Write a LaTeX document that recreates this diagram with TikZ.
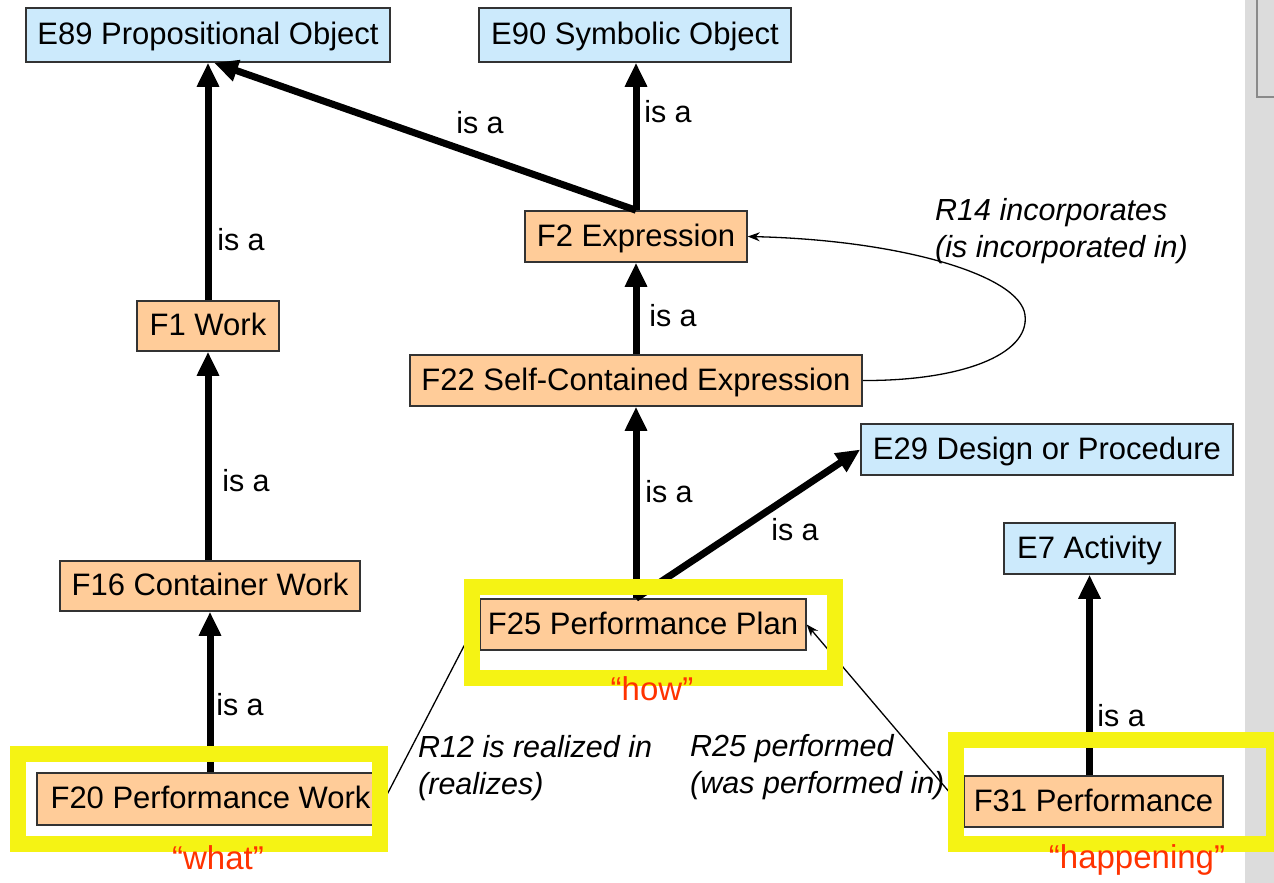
\documentclass[tikz,border=0pt]{standalone}
\usepackage{fontspec}
\setmainfont{Liberation Sans}
\usetikzlibrary{arrows.meta,calc}
\definecolor{ebox}{HTML}{CCEAFC}
\definecolor{fbox}{HTML}{FFCC99}
\definecolor{hilite}{HTML}{F5F314}
\definecolor{redtxt}{HTML}{FF3300}
\definecolor{bdr}{HTML}{333333}
\definecolor{sbar}{HTML}{DCDCDC}
\definecolor{sbarline}{HTML}{8A8A8A}
\tikzset{
  cls/.style={draw=bdr, line width=1.5pt, inner sep=0pt, text height=22pt, text depth=3pt, font=\fontsize{31}{37}\selectfont},
  ecls/.style={cls, fill=ebox},
  fcls/.style={cls, fill=fbox},
  isa/.style={line width=7pt, -{Triangle[width=21pt,length=24pt]}},
  rel/.style={line width=1.3pt, -{Stealth[length=12pt,width=9pt]}},
  isalbl/.style={inner sep=0pt, font=\fontsize{30.5}{36}\selectfont},
  rellbl/.style={inner sep=0pt, align=left, anchor=north west, font=\fontsize{30.5}{37}\selectfont\itshape},
  hl/.style={draw=hilite, line width=16pt},
  tag/.style={inner sep=0pt, anchor=base, text=redtxt, font=\fontsize{33}{39}\selectfont}
}
\begin{document}
\begin{tikzpicture}[x=1pt,y=-1pt]
\useasboundingbox (0,0) rectangle (1274,883);
\fill[white] (0,0) rectangle (1274,883);
% scrollbar
\fill[sbar] (1245,0) rectangle (1274,883);
\draw[sbarline, line width=1.5pt] (1257,-2) -- (1257,97) -- (1278,97);

% nodes
\node[ecls, minimum width=364pt, minimum height=54pt] (E89) at (208,35) {E89 Propositional Object};
\node[ecls, minimum width=312pt, minimum height=54pt] (E90) at (635,35) {E90 Symbolic Object};
\node[fcls, minimum width=222pt, minimum height=51pt] (F2) at (636,236.5) {F2 Expression};
\node[fcls, minimum width=142pt, minimum height=50pt] (F1) at (208,326) {F1 Work};
\node[fcls, minimum width=452pt, minimum height=51pt] (F22) at (636,380.5) {F22 Self-Contained Expression};
\node[ecls, minimum width=372pt, minimum height=51pt] (E29) at (1047,449.5) {E29 Design or Procedure};
\node[ecls, minimum width=171pt, minimum height=51pt] (E7) at (1089.5,548.5) {E7 Activity};
\node[fcls, minimum width=300pt, minimum height=50pt] (F16) at (210,586) {F16 Container Work};
\node[fcls, minimum width=326pt, minimum height=51pt] (F25) at (643,624.5) {F25 Performance Plan};
\node[fcls, minimum width=347pt, minimum height=52pt] (F20) at (210.5,799) {F20 Performance Work};
\node[fcls, minimum width=259pt, minimum height=51pt] (F31) at (1093.5,801.5) {F31 Performance};

% is-a connectors
\draw[isa] (F1.north) -- (E89.south);
\draw[isa] (F1.south |- F16.north) -- (F1.south);
\draw[isa] (F16.south |- F20.north) -- (F16.south);
\draw[isa] (F2.north) -- (F2.north |- E90.south);
\draw[isa] (F2.north) -- ([xshift=6pt]E89.south);
\draw[isa] (F22.north) -- (F2.south);
\draw[isa] (F22.south |- F25.north) -- (F22.south);
\draw[isa] (F22.south |- F25.north) -- (E29.west);
\draw[isa] (E7.south |- F31.north) -- (E7.south);

% relations
\draw[rel] (F22.east) .. controls (960,381) and (1030,355) .. (1025,315)
           .. controls (1020,275) and (900,240) .. (F2.east);
\draw[rel] (F20.east) -- ([yshift=8pt]F25.west);
\draw[rel] ([yshift=-7pt]F31.west) -- (F25.east);

% labels
\node[isalbl] (l1) at (241,240) {is a};
\node[isalbl] (l2) at (480,123) {is a};
\node[isalbl] (l3) at (668,112) {is a};
\node[isalbl] (l4) at (246,481) {is a};
\node[isalbl] (l5) at (240,705) {is a};
\node[isalbl] (l6) at (673,316) {is a};
\node[isalbl] (l7) at (669,492) {is a};
\node[isalbl] (l8) at (795,530) {is a};
\node[isalbl] (l9) at (1121,716) {is a};

\node[rellbl] (r14) at (935,198) {R14 incorporates\\(is incorporated in)};
\node[rellbl] (r12) at (418,735) {R12 is realized in\\(realizes)};
\node[rellbl] (r25) at (690,734) {R25 performed\\(was performed in)};

% highlight frames
\draw[hl] (472,587) rectangle (835,678);
\draw[hl] (18,754) rectangle (380,844);
\draw[hl] (956,740) rectangle (1274,844);

\node[tag] (what) at (218,869) {“what”};
\node[tag] (how) at (652,700) {“how”};
\node[tag] (happ) at (1137,868) {“happening”};
\end{tikzpicture}
\end{document}
